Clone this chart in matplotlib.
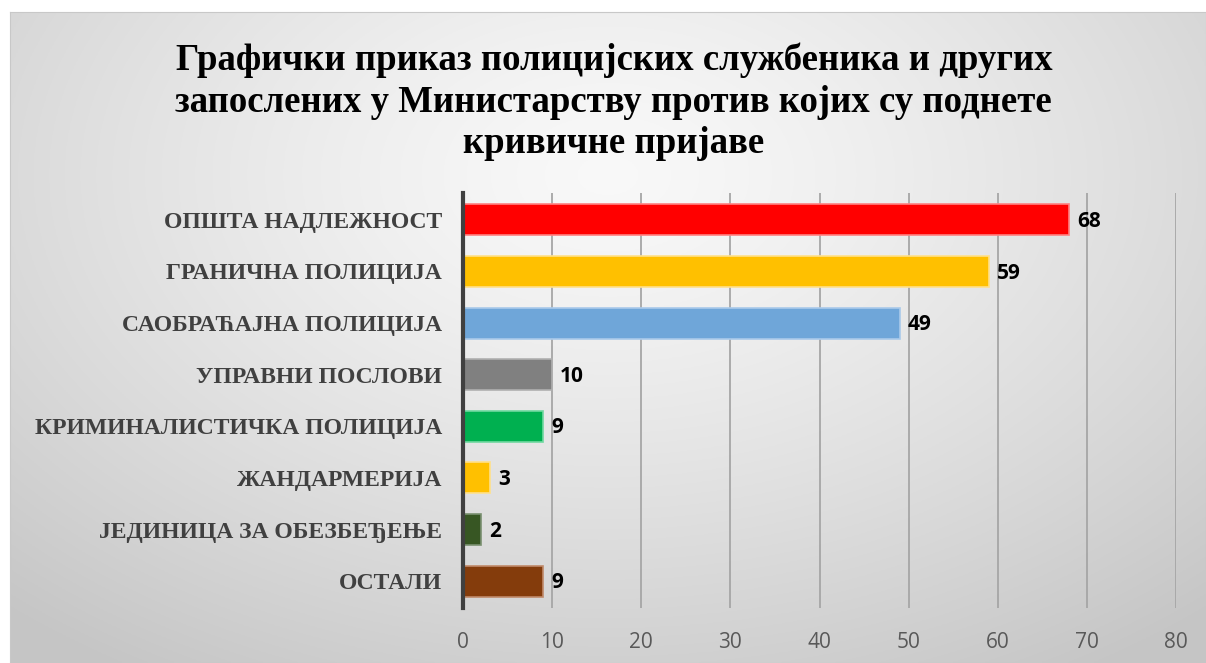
import matplotlib.pyplot as plt
import numpy as np

kategorije = ["ОПШТА НАДЛЕЖНОСТ", "ГРАНИЧНА ПОЛИЦИЈА", "САОБРАЋАЈНА ПОЛИЦИЈА",
              "УПРАВНИ ПОСЛОВИ", "КРИМИНАЛИСТИЧКА ПОЛИЦИЈА", "ЖАНДАРМЕРИЈА",
              "ЈЕДИНИЦА ЗА ОБЕЗБЕЂЕЊЕ", "ОСТАЛИ"]
vrednosti = [68, 59, 49, 10, 9, 3, 2, 9]
boje = ["#ff0000", "#ffc000", "#6fa6d9", "#808080", "#00b050", "#ffc000", "#375623", "#843c0c"]
ivice = ["#ff8080", "#ffe08a", "#a9c9ea", "#b0b0b0", "#70d8a0", "#ffe08a", "#7a9070", "#c08a6a"]
naslov = ("Графички приказ полицијских службеника и других\n"
          "запослених у Министарству против којих су поднете\n"
          "кривичне пријаве")

fig = plt.figure(figsize=(12.06, 6.63), dpi=100)
fig.patch.set_facecolor("white")

# pozadina - radijalni gradijent
bg = fig.add_axes([10/1206, 0, 1 - 10/1206, 1 - 12/663])
yy, xx = np.mgrid[0:1:300j, 0:1:600j]
r = np.sqrt(((xx - 0.5) / 0.75) ** 2 + ((yy - 0.25) / 0.9) ** 2)
r = np.clip(r, 0, 1)
sivo = 0.975 - 0.2 * r ** 1.3
img = np.dstack([sivo, sivo, sivo])
bg.imshow(img, aspect="auto", extent=[0, 1, 1, 0])
bg.set_xticks([])
bg.set_yticks([])
for s in bg.spines.values():
    s.set_color("#c8c8c8")

ax = fig.add_axes([463/1206, 55/663, (1176 - 463)/1206, (608 - 193)/663])
ax.patch.set_alpha(0)
y = np.arange(len(kategorije))
ax.barh(y, vrednosti, height=0.6, color=boje, edgecolor=ivice, linewidth=1.2, zorder=3)
ax.set_xlim(0, 80)
ax.set_ylim(len(kategorije) - 0.48, -0.52)
ax.set_xticks(range(0, 81, 10))
ax.set_yticks(y)
ax.set_yticklabels(kategorije, family="Liberation Serif", fontweight="bold",
                   fontsize=17, color="#404040")
ax.tick_params(axis="y", length=0, pad=15)
ax.tick_params(axis="x", length=0, pad=17, labelsize=15, labelcolor="#595959")
for lbl in ax.get_xticklabels():
    lbl.set_family("Open Sans")
ax.grid(axis="x", color="#a6a6a6", linewidth=1.3, zorder=0)
for s in ["top", "right", "bottom"]:
    ax.spines[s].set_visible(False)
ax.spines["left"].set_color("#404040")
ax.spines["left"].set_linewidth(3)
ax.spines["left"].set_zorder(4)

for i, v in enumerate(vrednosti):
    ax.text(v + 0.9, i + 0.03, str(v), va="center", ha="left", fontsize=15,
            fontweight="bold", family="Open Sans", color="black", zorder=5)

fig.text(0.509, 1 - 102/663, naslov, ha="center", va="center", fontsize=26.5,
         fontweight="bold", family="Liberation Serif", linespacing=1.24)

fig.savefig("out.png", dpi=100)
